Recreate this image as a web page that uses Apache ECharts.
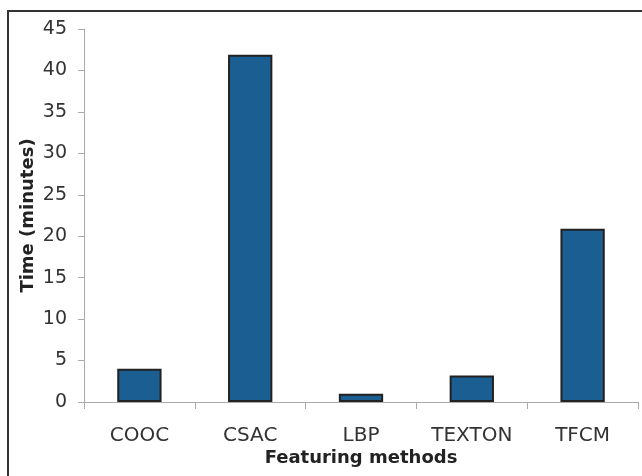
<!DOCTYPE html>
<html>
<head>
<meta charset="utf-8">
<script src="https://cdn.jsdelivr.net/npm/echarts@6/dist/echarts.min.js"></script>
<style>html,body{margin:0;padding:0;background:#fff}#c{width:642px;height:476px}</style>
</head>
<body>
<div id="c"></div>
<script>
var categories = ['COOC', 'CSAC', 'LBP', 'TEXTON', 'TFCM'];
var timeMinutes = [4.0, 41.9, 1.0, 3.2, 20.9];
var yTicks = [0, 5, 10, 15, 20, 25, 30, 35, 40, 45];

var chart = echarts.init(document.getElementById('c'), null, {renderer: 'canvas'});
chart.setOption({
  backgroundColor: '#ffffff',
  animation: false,
  graphic: [{
    type: 'rect',
    shape: {x: 8, y: 11, width: 700, height: 520},
    style: {fill: 'none', stroke: '#333', lineWidth: 2},
    silent: true
  }],
  grid: {left: 84, right: 4, top: 29, bottom: 74, containLabel: false},
  xAxis: {
    type: 'category',
    data: categories,
    name: 'Featuring methods',
    nameLocation: 'middle',
    nameGap: 47,
    nameMoveOverlap: false,
    nameTextStyle: {fontFamily: 'DejaVu Sans', fontSize: 18, fontWeight: 'bold', color: '#222'},
    axisLine: {lineStyle: {color: '#aaa', width: 1}},
    axisTick: {show: true, length: 7, lineStyle: {color: '#aaa'}},
    axisLabel: {fontFamily: 'DejaVu Sans', fontSize: 20, color: '#333', margin: 24}
  },
  yAxis: {
    type: 'value',
    min: 0, max: 45, interval: 5,
    name: 'Time (minutes)',
    nameLocation: 'middle',
    nameGap: 47,
    nameMoveOverlap: false,
    nameTextStyle: {fontFamily: 'DejaVu Sans', fontSize: 18, fontWeight: 'bold', color: '#222'},
    axisLine: {show: true, lineStyle: {color: '#aaa', width: 1}},
    axisTick: {show: true, length: 6, lineStyle: {color: '#aaa'}},
    splitLine: {show: false},
    axisLabel: {
      fontFamily: 'DejaVu Sans', fontSize: 19, color: '#333', margin: 17,
      formatter: function (v) { return yTicks.indexOf(v) >= 0 ? String(v) : ''; }
    }
  },
  series: [{
    type: 'bar',
    data: timeMinutes,
    barWidth: '40%',
    itemStyle: {color: '#1b5e92', borderColor: '#222', borderWidth: 2}
  }]
});
</script>
</body>
</html>
